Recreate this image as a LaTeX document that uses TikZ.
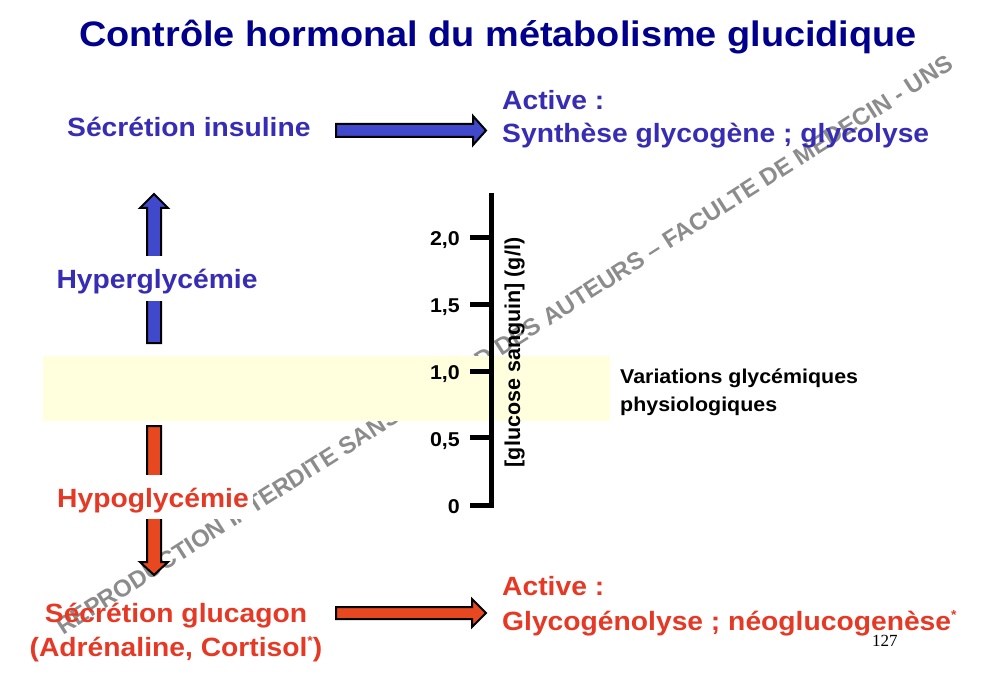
\documentclass[tikz,border=0pt]{standalone}
\usepackage{fontspec}
\setmainfont{Liberation Sans}[FakeStretch=1.07]
\newfontfamily\plainsans{Liberation Sans}
\newfontfamily\numserif{Liberation Serif}
\definecolor{titleblue}{RGB}{0,0,140}
\definecolor{textblue}{RGB}{55,45,180}
\definecolor{arrowblue}{RGB}{64,72,204}
\definecolor{textred}{RGB}{229,57,37}
\definecolor{arrowred}{RGB}{232,72,32}
\definecolor{bandyellow}{RGB}{255,255,221}
\definecolor{wmgray}{RGB}{140,140,140}
\newcommand{\smallast}{\raisebox{11pt}{\fontsize{13}{13}\selectfont *}}
\begin{document}
\begin{tikzpicture}[x=1pt,y=-1pt,
  txt/.style={inner sep=0pt, font=\bfseries\fontsize{26.4}{31}\selectfont},
  small/.style={inner sep=0pt, font=\bfseries\fontsize{20}{24}\selectfont},
  blockarrow/.style={draw=black, line width=2pt, line join=miter},
  axisline/.style={line width=5pt, line join=miter}]
\useasboundingbox (0,0) rectangle (991,695);
% watermark
\node[inner sep=0pt, text=wmgray, rotate=32.5,
  font=\plainsans\bfseries\fontsize{24}{28}\selectfont] (wm) at (504.5,345)
  {REPRODUCTION INTERDITE SANS ACCORD DES AUTEURS – FACULTE DE MEDECIN - UNS};
% yellow band
\fill[bandyellow] (43,356) rectangle (610,421);
% title
\node[inner sep=0pt, anchor=base, text=titleblue,
  font=\bfseries\fontsize{35.4}{40}\selectfont] (title) at (498,47)
  {Contrôle hormonal du métabolisme glucidique};
% top row
\node[txt, text=textblue, anchor=base west] (insuline) at (67,137) {Sécrétion insuline};
\node[txt, text=textblue, anchor=base west] (active1) at (502,110) {Active :};
\node[txt, text=textblue, anchor=base west] (synth) at (502,143) {Synthèse glycogène ; glycolyse};
% bottom row
\node[txt, text=textred, anchor=base] (glucagon) at (176,622) {Sécrétion glucagon};
\node[txt, text=textred, anchor=base] (adren) at (176,656) {(Adrénaline, Cortisol\smallast)};
\node[txt, text=textred, anchor=base west] (active2) at (502,595) {Active :};
\node[txt, text=textred, anchor=base west] (glyco) at (502,630) {Glycogénolyse ; néoglucogenèse\smallast};
% horizontal block arrows
\draw[blockarrow, fill=arrowblue] (336,124) -- (473,124) -- (473,116) -- (486,130.5)
  -- (473,145) -- (473,137) -- (336,137) -- cycle;
\draw[blockarrow, fill=arrowred] (336,607) -- (472,607) -- (472,599) -- (486,613)
  -- (472,627) -- (472,619) -- (336,619) -- cycle;
% vertical block arrows
\draw[blockarrow, fill=arrowblue] (147,343) -- (147,208) -- (140,208) -- (154,194)
  -- (168,208) -- (161,208) -- (161,343) -- cycle;
\draw[blockarrow, fill=arrowred] (147,426) -- (147,562) -- (140,562) -- (154,575)
  -- (168,562) -- (161,562) -- (161,426) -- cycle;
% labels on arrows
\node[txt, text=textblue, fill=white, inner xsep=6pt, text height=32pt, text depth=13pt,
  anchor=base] (hyper) at (157,288) {Hyperglycémie};
\node[txt, text=textred, fill=white, inner xsep=4pt, text height=32pt, text depth=12pt,
  anchor=base] (hypo) at (153,507) {Hypoglycémie};
% axis
\draw[axisline] (470,505.5) -- (491.5,505.5) -- (491.5,193);
\foreach \yy/\lab in {237.5/{2,0}, 304.3/{1,5}, 371/{1,0}, 437.8/{0,5}} {
  \draw[axisline] (470,\yy) -- (491.5,\yy);
  \node[small, anchor=base east] at (460,\yy+8.5) {\lab};
}
\node[small, anchor=base east] (zero) at (460,513.5) {0};
\node[inner sep=0pt, anchor=base, rotate=90,
  font=\plainsans\bfseries\fontsize{21.5}{25}\selectfont] (axlabel) at (520,352.5)
  {[glucose sanguin] (g/l)};
% variations
\node[small, anchor=base west] (var1) at (620,383) {Variations glycémiques};
\node[small, anchor=base west] (var2) at (620,411) {physiologiques};
% page number
\node[inner sep=0pt, anchor=base west, font=\numserif\fontsize{17}{20}\selectfont] (page) at (872,646) {127};
\end{tikzpicture}
\end{document}
